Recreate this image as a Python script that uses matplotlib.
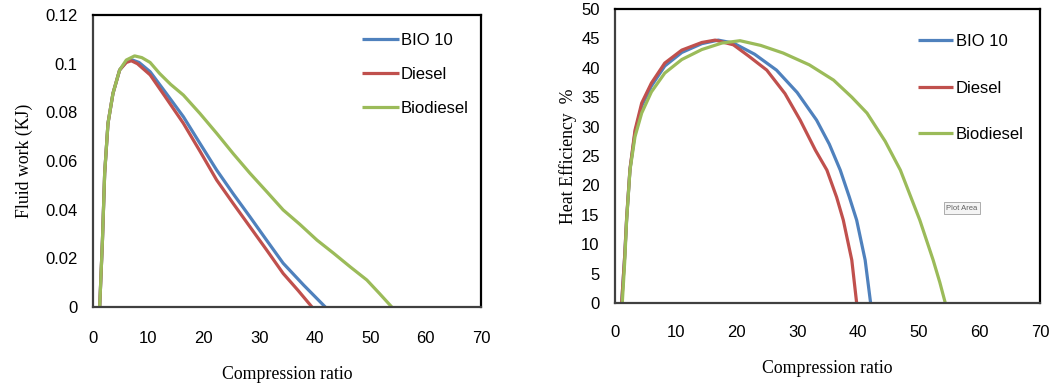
import matplotlib
matplotlib.use("Agg")
import matplotlib.pyplot as plt

# ---- Data: left panel (Fluid work, KJ) ----
fw_bio10_x = [1.2, 1.7, 2.1, 2.7, 3.6, 4.8, 6.0, 7.0, 8.3, 10.3, 13.3, 16.3, 19.3, 22.3, 25.3, 28.3, 31.3, 34.3, 38.0, 41.9]
fw_bio10_y = [0.0, 0.0275, 0.055, 0.0755, 0.0878, 0.0974, 0.1008, 0.1016, 0.1005, 0.0967, 0.0875, 0.0782, 0.0672, 0.0563, 0.0465, 0.0371, 0.0275, 0.0180, 0.0090, 0.0]
fw_diesel_x = [1.2, 1.7, 2.1, 2.7, 3.6, 4.8, 6.0, 6.9, 8.0, 10.3, 13.0, 16.3, 19.3, 22.3, 25.3, 28.3, 31.3, 34.3, 37.0, 39.5]
fw_diesel_y = [0.0, 0.0275, 0.055, 0.0755, 0.0878, 0.0974, 0.1005, 0.1012, 0.1000, 0.0954, 0.0865, 0.0755, 0.0640, 0.0522, 0.0425, 0.0330, 0.0235, 0.0138, 0.0068, 0.0]
fw_biodiesel_x = [1.2, 1.7, 2.1, 2.7, 3.6, 4.8, 6.0, 7.5, 8.8, 10.3, 12.0, 14.0, 16.3, 19.3, 22.3, 25.3, 28.3, 31.3, 34.3, 37.3, 40.4, 43.4, 46.4, 49.4, 51.7, 53.9]
fw_biodiesel_y = [0.0, 0.0275, 0.055, 0.0755, 0.0878, 0.0974, 0.1015, 0.1032, 0.1025, 0.1005, 0.0960, 0.0915, 0.0871, 0.0795, 0.0714, 0.0630, 0.0550, 0.0475, 0.0399, 0.0340, 0.0275, 0.0221, 0.0165, 0.0111, 0.0055, 0.0]

# ---- Data: right panel (Heat efficiency, %) ----
he_bio10_x = [1.1, 1.6, 1.92, 2.47, 3.3, 4.4, 6.0, 8.2, 11.0, 14.3, 17.0, 19.5, 23.0, 26.6, 30.0, 33.2, 35.3, 37.1, 38.6, 39.8, 41.2, 42.1]
he_bio10_y = [0.0, 8.0, 14.3, 22.7, 29.0, 33.5, 36.9, 40.3, 42.6, 44.1, 44.7, 44.2, 42.3, 39.6, 35.8, 31.1, 27.0, 22.6, 18.0, 14.1, 7.3, 0.0]
he_diesel_x = [1.1, 1.6, 1.92, 2.47, 3.3, 4.4, 6.0, 8.2, 11.0, 14.3, 16.5, 19.5, 22.0, 25.0, 28.0, 30.5, 33.0, 34.9, 36.5, 37.6, 39.0, 39.8]
he_diesel_y = [0.0, 8.0, 14.5, 22.8, 29.4, 34.0, 37.4, 40.8, 43.0, 44.3, 44.7, 43.9, 42.0, 39.6, 35.6, 31.1, 26.0, 22.6, 18.0, 14.1, 7.3, 0.0]
he_biodiesel_x = [1.2, 1.6, 1.92, 2.47, 3.3, 4.4, 6.0, 8.2, 11.0, 14.3, 17.6, 20.6, 24.0, 27.7, 32.0, 36.0, 39.0, 41.5, 44.5, 47.0, 50.2, 52.4, 53.5, 54.4]
he_biodiesel_y = [0.0, 7.0, 14.1, 22.6, 28.3, 32.3, 35.9, 39.1, 41.4, 43.1, 44.2, 44.6, 43.8, 42.5, 40.5, 37.9, 35.0, 32.3, 27.5, 22.6, 14.1, 7.3, 3.5, 0.0]

series_names = ["BIO 10", "Diesel", "Biodiesel"]
colors = ["#4F81BD", "#C0504D", "#9BBB59"]

x_ticks = [0, 10, 20, 30, 40, 50, 60, 70]
fw_ticks = [0, 0.02, 0.04, 0.06, 0.08, 0.1, 0.12]
fw_ticklabels = ["0", "0.02", "0.04", "0.06", "0.08", "0.1", "0.12"]
he_ticks = [0, 5, 10, 15, 20, 25, 30, 35, 40, 45, 50]

sans = ["Liberation Sans", "DejaVu Sans"]
serif = ["Liberation Serif", "DejaVu Serif"]

fig = plt.figure(figsize=(10.5, 3.89), dpi=100)
ax1 = fig.add_axes([0.0886, 0.2108, 0.3695, 0.7506])
ax2 = fig.add_axes([0.5857, 0.221, 0.4048, 0.756])

lw = 2.3
tick_fs = 12
lab_fs = 12.8
for ax, data in [
    (ax1, [(fw_bio10_x, fw_bio10_y), (fw_diesel_x, fw_diesel_y), (fw_biodiesel_x, fw_biodiesel_y)]),
    (ax2, [(he_bio10_x, he_bio10_y), (he_diesel_x, he_diesel_y), (he_biodiesel_x, he_biodiesel_y)]),
]:
    for (xs, ys), name, c in zip(data, series_names, colors):
        ax.plot(xs, ys, color=c, lw=lw, label=name, solid_capstyle="butt",
                solid_joinstyle="round")
    ax.set_xlim(0, 70)
    ax.set_xticks(x_ticks)
    for s in ax.spines.values():
        s.set_color("black")
        s.set_linewidth(1.6)
    ax.spines["bottom"].set_color("#404040")
    ax.spines["left"].set_color("#404040")
    ax.tick_params(length=0, labelsize=tick_fs)
    for lab in ax.get_xticklabels() + ax.get_yticklabels():
        lab.set_family(sans)

ax1.set_ylim(0, 0.12)
ax1.set_yticks(fw_ticks)
ax1.set_yticklabels(fw_ticklabels, family=sans)
ax1.tick_params(axis="x", pad=17)
ax1.tick_params(axis="y", pad=11)
ax1.set_xlabel("Compression ratio", family=serif, fontsize=lab_fs, labelpad=15)
ax1.set_ylabel("Fluid work (KJ)", family=serif, fontsize=lab_fs, labelpad=9)

ax2.set_ylim(0, 50)
ax2.set_yticks(he_ticks)
ax2.tick_params(axis="x", pad=16)
ax2.tick_params(axis="y", pad=11)
ax2.set_xlabel("Compression ratio", family=serif, fontsize=lab_fs, labelpad=14)
ax2.set_ylabel("Heat Efficiency  %", family=serif, fontsize=lab_fs, labelpad=3)

leg1 = ax1.legend(loc="upper left", bbox_to_anchor=(0.693, 0.94), frameon=False,
                  borderaxespad=0, borderpad=0,
                  handlelength=2.2, handletextpad=0.15, labelspacing=1.15,
                  prop={"family": sans, "size": 12})
leg2 = ax2.legend(loc="upper left", bbox_to_anchor=(0.713, 0.915), frameon=False,
                  borderaxespad=0, borderpad=0,
                  handlelength=2.1, handletextpad=0.15, labelspacing=1.9,
                  prop={"family": sans, "size": 12})

ax2.text(0.816, 0.323, "Plot Area", transform=ax2.transAxes, fontsize=5.5,
         family=sans, color="#606060", ha="center", va="center",
         bbox=dict(boxstyle="square,pad=0.35", fc="#f4f4f4", ec="#a0a0a0", lw=0.6))

fig.savefig("out.png", dpi=100)
